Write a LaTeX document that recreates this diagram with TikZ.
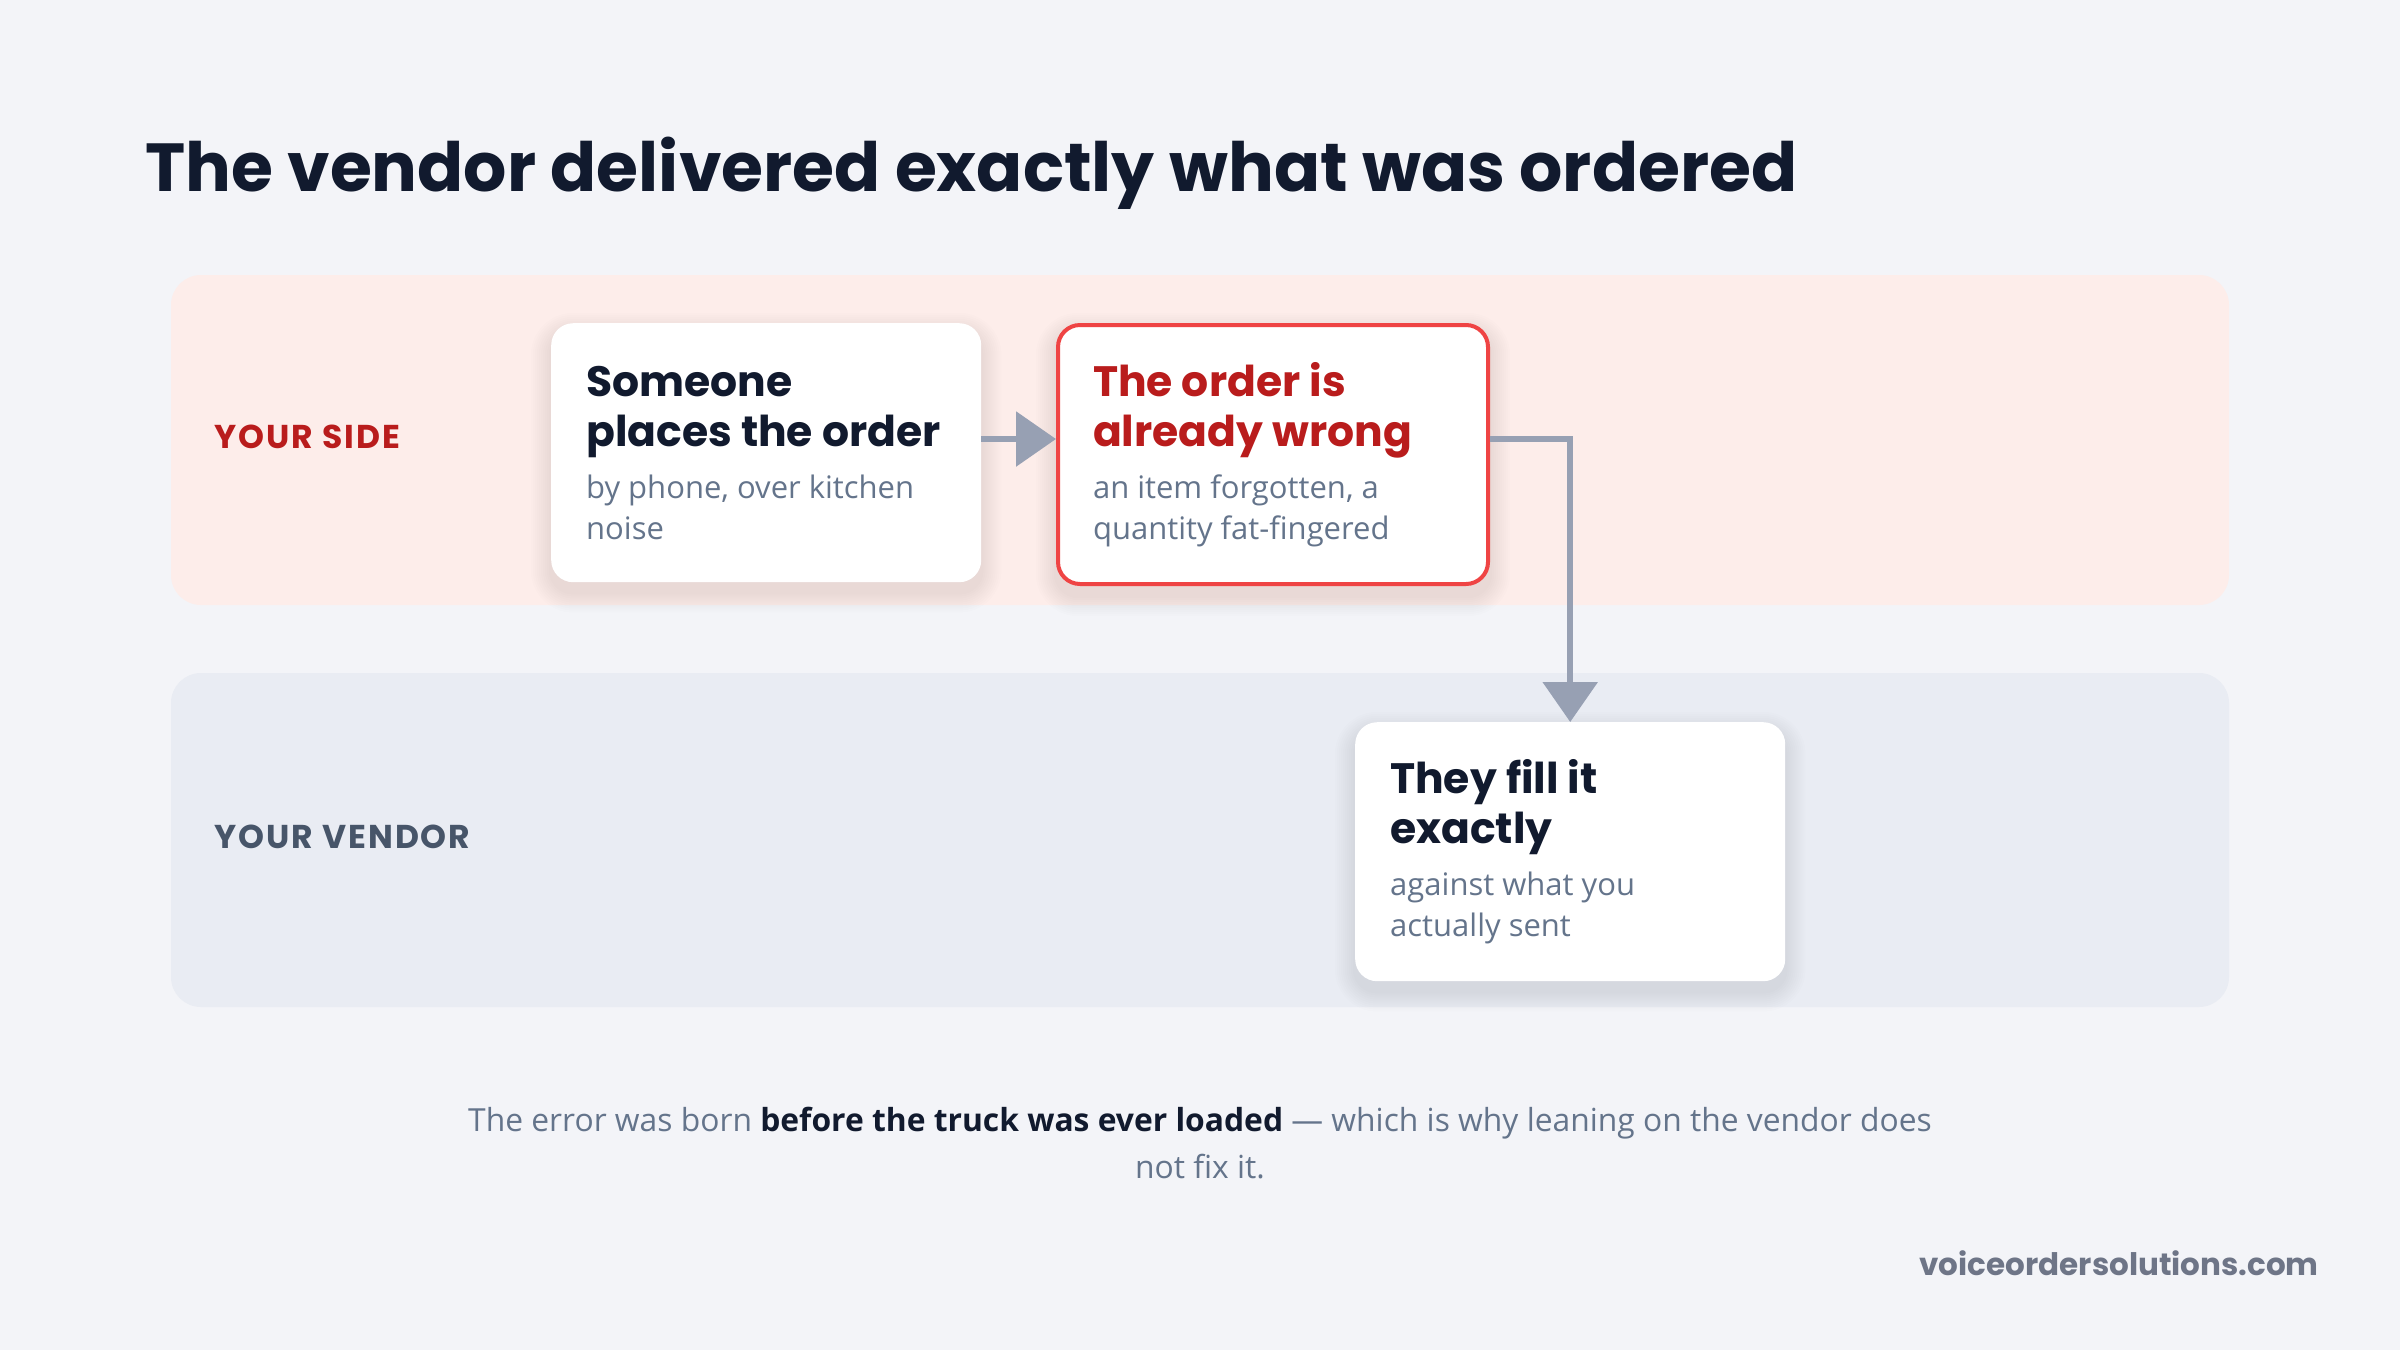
\documentclass[tikz,border=0pt]{standalone}
\usepackage{fontspec}
\setmainfont{Open Sans}
\newfontfamily\headfont{Poppins}
\usepackage{xcolor}
\usetikzlibrary{arrows.meta, positioning}

\definecolor{pagebg}{HTML}{F3F4F8}
\definecolor{sideband}{HTML}{FDEDEA}
\definecolor{vendorband}{HTML}{E9ECF3}
\definecolor{inkdark}{HTML}{111A2E}
\definecolor{inkred}{HTML}{B91C1C}
\definecolor{edgered}{HTML}{EF4444}
\definecolor{subgray}{HTML}{64748B}
\definecolor{lanegray}{HTML}{475569}
\definecolor{arrowgray}{HTML}{97A0B3}
\definecolor{urlgray}{HTML}{6E7587}
\definecolor{shadetint}{HTML}{5A4A60}

\pgfdeclarelayer{lanes}
\pgfdeclarelayer{shade}
\pgfsetlayers{lanes,shade,main}

\newcommand{\cardhead}{\headfont\bfseries\fontsize{42.5}{50}\selectfont\spaceskip=0pt\xspaceskip=0pt}
\newcommand{\cardsub}{\normalfont\fontsize{31}{41}\selectfont\spaceskip=0pt\xspaceskip=0pt\color{subgray}}

\tikzset{
  band/.style={fill=#1, draw=none, rounded corners=30pt},
  lane/.style={anchor=base west, font=\headfont\bfseries\fontsize{33}{40}\selectfont\addfontfeature{LetterSpace=6}},
  card/.style={fill=white, rounded corners=22pt, minimum width=430pt, minimum height=259pt,
    text width=360pt, inner xsep=35pt, inner ysep=0pt, align=left, anchor=north west},
  flow/.style={draw=arrowgray, line width=6pt, -{Triangle[length=40pt, width=54pt]}},
}

\begin{document}
\begin{tikzpicture}[x=1pt, y=-1pt]
  \begin{pgfonlayer}{lanes}
    \fill[pagebg] (0,0) rectangle (2400,1350);
    \fill[band=sideband] (171,275) rectangle (2229,605);
    \fill[band=vendorband] (171,673) rectangle (2229,1007);
  \end{pgfonlayer}
  \useasboundingbox (0,0) rectangle (2400,1350);

  % heading
  \node[anchor=base west, inner sep=0pt, text=inkdark, font=\headfont\bfseries\fontsize{68}{76}\selectfont] (heading) at (145,191) {The vendor delivered exactly what was ordered};

  % lanes
  \node[lane, text=inkred] (sidelabel) at (211,448) {YOUR SIDE};
  \node[lane, text=lanegray] (vendorlabel) at (211,848) {YOUR VENDOR};

  % steps
  \node[card] (place) at (551,323) {\cardhead\color{inkdark}Someone\\places the order\par\vspace{11pt}\cardsub by phone, over kitchen\\noise\par};
  \node[card, draw=edgered, line width=4pt] (wrong) at (1056,323) {\cardhead\color{inkred}The order is\\already wrong\par\vspace{11pt}\cardsub an item forgotten, a\\quantity fat-fingered\par};
  \node[card] (fill) at (1355,722) {\cardhead\color{inkdark}They fill it\\exactly\par\vspace{11pt}\cardsub against what you\\actually sent\par};

  % soft shadows under the cards
  \begin{pgfonlayer}{shade}
    \foreach \c in {place, wrong, fill} {
      \foreach \i in {1,...,10} {
        \fill[shadetint, opacity=0.012, rounded corners=22pt+2*\i pt]
          ([xshift=-2*\i pt, yshift=2*\i pt-10pt]\c.north west) rectangle ([xshift=2*\i pt, yshift=-2*\i pt-10pt]\c.south east);
      }
    }
  \end{pgfonlayer}

  \draw[flow] (place.east |- 0,439) -- (wrong.west |- 0,439);
  \draw[flow] (wrong.east |- 0,439) -| (fill.north);

  % footer
  \node[align=center, text=subgray, font=\fontsize{31.8}{47}\selectfont] (note) at (1200,1143) {The error was born \textbf{\color{inkdark}before the truck was ever loaded} — which is why leaning on the vendor does\\not fix it.};
  \node[anchor=base east, inner sep=0pt, text=urlgray, font=\headfont\bfseries\fontsize{31}{36}\selectfont] (site) at (2319,1275) {voiceordersolutions.com};
\end{tikzpicture}
\end{document}
